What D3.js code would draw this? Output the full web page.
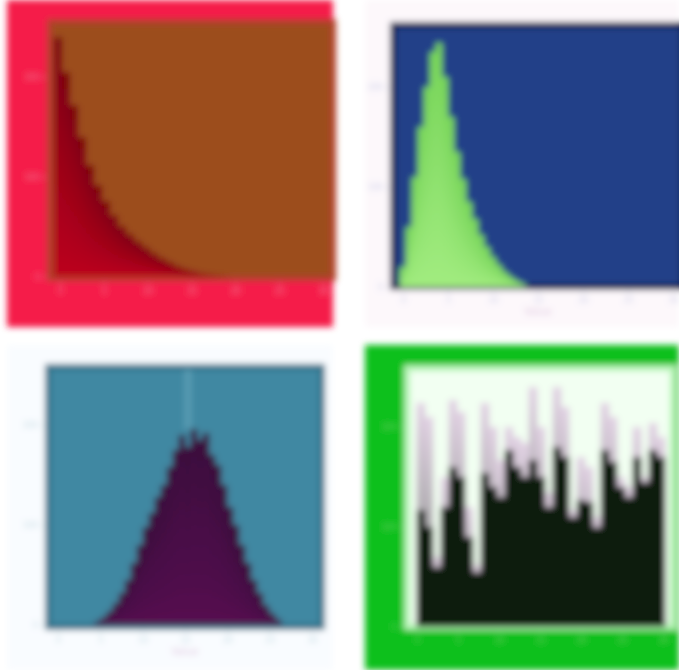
<!DOCTYPE html>
<html>
<head>
<meta charset="utf-8">
<script src="https://cdn.jsdelivr.net/npm/d3@7"></script>
<style>
  body { margin: 0; background: #fff; }
  svg { display: block; }
</style>
</head>
<body>
<svg id="chart" width="679" height="670"></svg>
<script>
// histogram bin counts, one array per panel
const expCounts = [240, 205, 172, 140, 112, 92, 76, 62, 51, 43, 36, 30, 24, 19, 15, 11, 8, 6, 4, 3, 2, 1];
const gammaCounts = [20, 60, 110, 160, 200, 235, 244, 210, 170, 135, 108, 85, 68, 52, 40, 30, 22, 15, 10, 6, 3];
const normalCounts = [4, 8, 14, 22, 32, 45, 62, 80, 98, 112, 128, 140, 158, 175, 190, 178, 196, 185, 192, 170, 160, 140, 118, 100, 80, 62, 45, 32, 20, 12, 6];
const uniformBack = [224, 210, 70, 150, 227, 215, 120, 62, 224, 200, 167, 200, 190, 184, 240, 200, 134, 240, 220, 117, 170, 160, 110, 224, 210, 150, 140, 200, 150, 204, 190];
const uniformFront = [117, 100, 60, 120, 160, 150, 90, 55, 154, 140, 130, 177, 160, 150, 167, 150, 120, 180, 170, 110, 127, 125, 100, 177, 165, 140, 130, 170, 145, 177, 170];

const yTicks = [0, 100, 200];
const xTicks = [0, 5, 10, 15, 20, 25, 30];

const svg = d3.select('#chart');
const defs = svg.append('defs');

defs.append('filter')
  .attr('id', 'soft')
  .attr('filterUnits', 'userSpaceOnUse')
  .attr('x', 0).attr('y', 0).attr('width', 679).attr('height', 670)
  .append('feGaussianBlur')
  .attr('stdDeviation', 3.4);

const grad = (id, top, bottom) => {
  const g = defs.append('linearGradient')
    .attr('id', id).attr('x1', 0).attr('y1', 0).attr('x2', 0).attr('y2', 1);
  g.append('stop').attr('offset', '0%').attr('stop-color', top);
  g.append('stop').attr('offset', '100%').attr('stop-color', bottom);
};
grad('g-exp', '#7c0610', '#bc001f');
grad('g-gamma', '#76d458', '#a2ec80');
grad('g-normal', '#3a0c3c', '#560f50');
grad('g-back', '#e2d2e4', '#7e887e');

const root = svg.append('g').attr('filter', 'url(#soft)');

const panels = [
  {
    frame: [7, 0, 326, 327], frameFill: '#f51a4a',
    plot: [50, 22, 283, 256], plotFill: '#9c4e1f', plotStroke: '#b0402a',
    base: 277, binStart: 54, binWidth: 8,
    layers: [{ counts: expCounts, fill: 'url(#g-exp)' }],
    tickColor: '#f07090', label: ''
  },
  {
    frame: [365, 0, 314, 327], frameFill: '#fdf8fb',
    plot: [393, 25, 290, 262], plotFill: '#223f88', plotStroke: '#0c1d4a',
    base: 287, binStart: 400, binWidth: 6,
    layers: [{ counts: gammaCounts, fill: 'url(#g-gamma)' }],
    tickColor: '#c8cce8', label: 'Value'
  },
  {
    frame: [7, 345, 326, 325], frameFill: '#f9fcff',
    plot: [48, 367, 274, 260], plotFill: '#3f88a2', plotStroke: '#2e6f88',
    base: 625, binStart: 95, binWidth: 6,
    layers: [{ counts: normalCounts, fill: 'url(#g-normal)' }],
    tickColor: '#c0d8e0', label: 'Value', meanLine: true
  },
  {
    frame: [365, 345, 314, 325], frameFill: '#08c01a',
    plot: [407, 368, 266, 259], plotFill: '#f2fff2', plotStroke: '#b4f4b4',
    base: 627, binStart: 417, binWidth: 8,
    layers: [
      { counts: uniformBack, fill: 'url(#g-back)' },
      { counts: uniformFront, fill: '#0a1a0a' }
    ],
    tickColor: '#60d060', label: ''
  }
];

panels.forEach((p) => {
  const g = root.append('g');
  const [fx, fy, fw, fh] = p.frame;
  const [px, py, pw, ph] = p.plot;

  g.append('rect')
    .attr('x', fx).attr('y', fy).attr('width', fw).attr('height', fh)
    .attr('fill', p.frameFill);

  g.append('rect')
    .attr('x', px).attr('y', py).attr('width', pw).attr('height', ph)
    .attr('fill', p.plotFill)
    .attr('stroke', p.plotStroke).attr('stroke-width', 6);

  const n = p.layers[0].counts.length;
  const x = d3.scaleLinear()
    .domain([0, n])
    .range([p.binStart, p.binStart + n * p.binWidth]);
  const y = d3.scaleLinear()
    .domain([0, 260])
    .range([p.base, p.base - 260]);

  if (p.meanLine) {
    g.append('line')
      .attr('x1', x(n / 2)).attr('x2', x(n / 2))
      .attr('y1', py + 2).attr('y2', y(d3.max(p.layers[0].counts)))
      .attr('stroke', '#7fb8cc').attr('stroke-width', 7)
      .attr('stroke-opacity', 0.4);
  }

  p.layers.forEach((layer) => {
    g.append('g')
      .selectAll('rect')
      .data(layer.counts)
      .join('rect')
      .attr('x', (d, i) => x(i) - 0.3)
      .attr('width', x(1) - x(0) + 0.6)
      .attr('y', (d) => y(d))
      .attr('height', (d) => y(0) - y(d))
      .attr('fill', layer.fill);
  });

  // faint axes
  const yAxis = g.append('g')
    .attr('transform', `translate(${px - 4},0)`)
    .call(d3.axisLeft(y).tickValues(yTicks).tickSize(3));
  const xAxis = g.append('g')
    .attr('transform', `translate(0,${py + ph + 4})`)
    .call(d3.axisBottom(d3.scaleLinear().domain([0, 30]).range([px + 10, px + pw - 10]))
      .tickValues(xTicks).tickSize(3));
  [yAxis, xAxis].forEach((a) => {
    a.select('.domain').remove();
    a.selectAll('line').attr('stroke', p.tickColor);
    a.selectAll('text')
      .attr('fill', p.tickColor)
      .attr('font-family', 'DejaVu Sans')
      .attr('font-size', 8);
  });

  if (p.label) {
    g.append('text')
      .attr('x', px + pw / 2).attr('y', py + ph + 28)
      .attr('text-anchor', 'middle')
      .attr('font-family', 'DejaVu Sans')
      .attr('font-size', 10)
      .attr('fill', '#e0c8e0')
      .text(p.label);
  }
});
</script>
</body>
</html>
